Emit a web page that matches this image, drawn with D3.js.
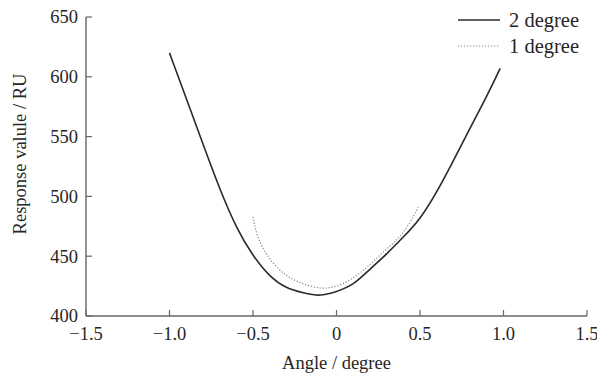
<!DOCTYPE html>
<html>
<head>
<meta charset="utf-8">
<script src="https://cdn.jsdelivr.net/npm/d3@7/dist/d3.min.js"></script>
<style>
  html, body { margin: 0; padding: 0; background: #fff; }
  svg { display: block; }
  text { font-family: "Liberation Serif", "Times New Roman", serif; fill: #262626; }
</style>
</head>
<body>
<svg id="chart" width="597" height="373"></svg>
<script>
// ---- data ----
const xTicks = [-1.5, -1.0, -0.5, 0, 0.5, 1.0, 1.5];
const xTickLabels = ["\u22121.5", "\u22121.0", "\u22120.5", "0", "0.5", "1.0", "1.5"];
const yTicks = [400, 450, 500, 550, 600, 650];
const seriesNames = ["2 degree", "1 degree"];

const angle2 = [-1.0, -0.9, -0.8, -0.7, -0.6, -0.5, -0.4, -0.3, -0.2, -0.1, 0.0, 0.1, 0.2, 0.3, 0.4, 0.5, 0.6, 0.7, 0.8, 0.9, 0.98];
const resp2  = [620, 582, 544, 507, 475, 451, 434, 424, 419.5, 417.5, 420.5, 427, 439, 452, 466, 482, 504, 530, 557, 584, 607];

const angle1 = [-0.5, -0.47, -0.4, -0.3, -0.2, -0.1, 0.0, 0.1, 0.2, 0.3, 0.4, 0.49];
const resp1  = [483, 466, 448, 434, 427, 423.5, 425, 432, 443, 456, 470, 491];

// ---- layout ----
const svg = d3.select("#chart");
const x = d3.scaleLinear().domain([-1.5, 1.5]).range([86, 587]);
const y = d3.scaleLinear().domain([400, 650]).range([316, 17]);
const axisColor = "#666";
const fontSize = 18.5;
const legendFont = 20.5;

// x axis (ticks pointing inward/up)
const gx = svg.append("g").attr("transform", `translate(0,${y(400)})`);
gx.append("line").attr("x1", x(-1.5)).attr("x2", x(1.5))
  .attr("stroke", axisColor).attr("stroke-width", 1.4);
gx.selectAll("line.t").data(xTicks).enter().append("line").attr("class", "t")
  .attr("x1", d => x(d)).attr("x2", d => x(d)).attr("y1", 0).attr("y2", -6)
  .attr("stroke", axisColor).attr("stroke-width", 1.2);
gx.selectAll("text").data(xTicks).enter().append("text")
  .attr("x", d => x(d)).attr("y", 24)
  .attr("text-anchor", "middle").attr("font-size", fontSize)
  .text((d, i) => xTickLabels[i]);

// y axis (ticks pointing inward/right)
const gy = svg.append("g").attr("transform", `translate(${x(-1.5)},0)`);
gy.append("line").attr("y1", y(400)).attr("y2", y(650))
  .attr("stroke", axisColor).attr("stroke-width", 1.4);
gy.selectAll("line.t").data(yTicks).enter().append("line").attr("class", "t")
  .attr("x1", 0).attr("x2", 6).attr("y1", d => y(d)).attr("y2", d => y(d))
  .attr("stroke", axisColor).attr("stroke-width", 1.2);
gy.selectAll("text").data(yTicks).enter().append("text")
  .attr("x", -8).attr("y", d => y(d)).attr("dy", "0.35em")
  .attr("text-anchor", "end").attr("font-size", fontSize)
  .text(d => d);

// axis titles
svg.append("text").attr("x", x(0)).attr("y", 369)
  .attr("text-anchor", "middle").attr("font-size", fontSize)
  .text("Angle / degree");
svg.append("text")
  .attr("transform", `translate(26,154) rotate(-90)`)
  .attr("text-anchor", "middle").attr("font-size", fontSize)
  .text("Response valule / RU");

// lines
const line = d3.line().curve(d3.curveNatural)
  .x(d => x(d[0])).y(d => y(d[1]));

const data2 = angle2.map((a, i) => [a, resp2[i]]);
const data1 = angle1.map((a, i) => [a, resp1[i]]);

svg.append("path").datum(data1).attr("d", line)
  .attr("fill", "none").attr("stroke", "#888").attr("stroke-width", 1.2)
  .attr("stroke-dasharray", "1.2,1.8");
svg.append("path").datum(data2).attr("d", line)
  .attr("fill", "none").attr("stroke", "#2a2a2a").attr("stroke-width", 1.6);

// legend
const legend = svg.append("g");
const legY = [20, 46];
const legStyles = [
  {stroke: "#2a2a2a", width: 1.6, dash: null},
  {stroke: "#888", width: 1.2, dash: "1.2,1.8"}
];
seriesNames.forEach((name, i) => {
  legend.append("line").attr("x1", 458).attr("x2", 500)
    .attr("y1", legY[i]).attr("y2", legY[i])
    .attr("stroke", legStyles[i].stroke).attr("stroke-width", legStyles[i].width)
    .attr("stroke-dasharray", legStyles[i].dash);
  legend.append("text").attr("x", 509).attr("y", legY[i]).attr("dy", "0.35em")
    .attr("font-size", legendFont).text(name);
});
</script>
</body>
</html>
